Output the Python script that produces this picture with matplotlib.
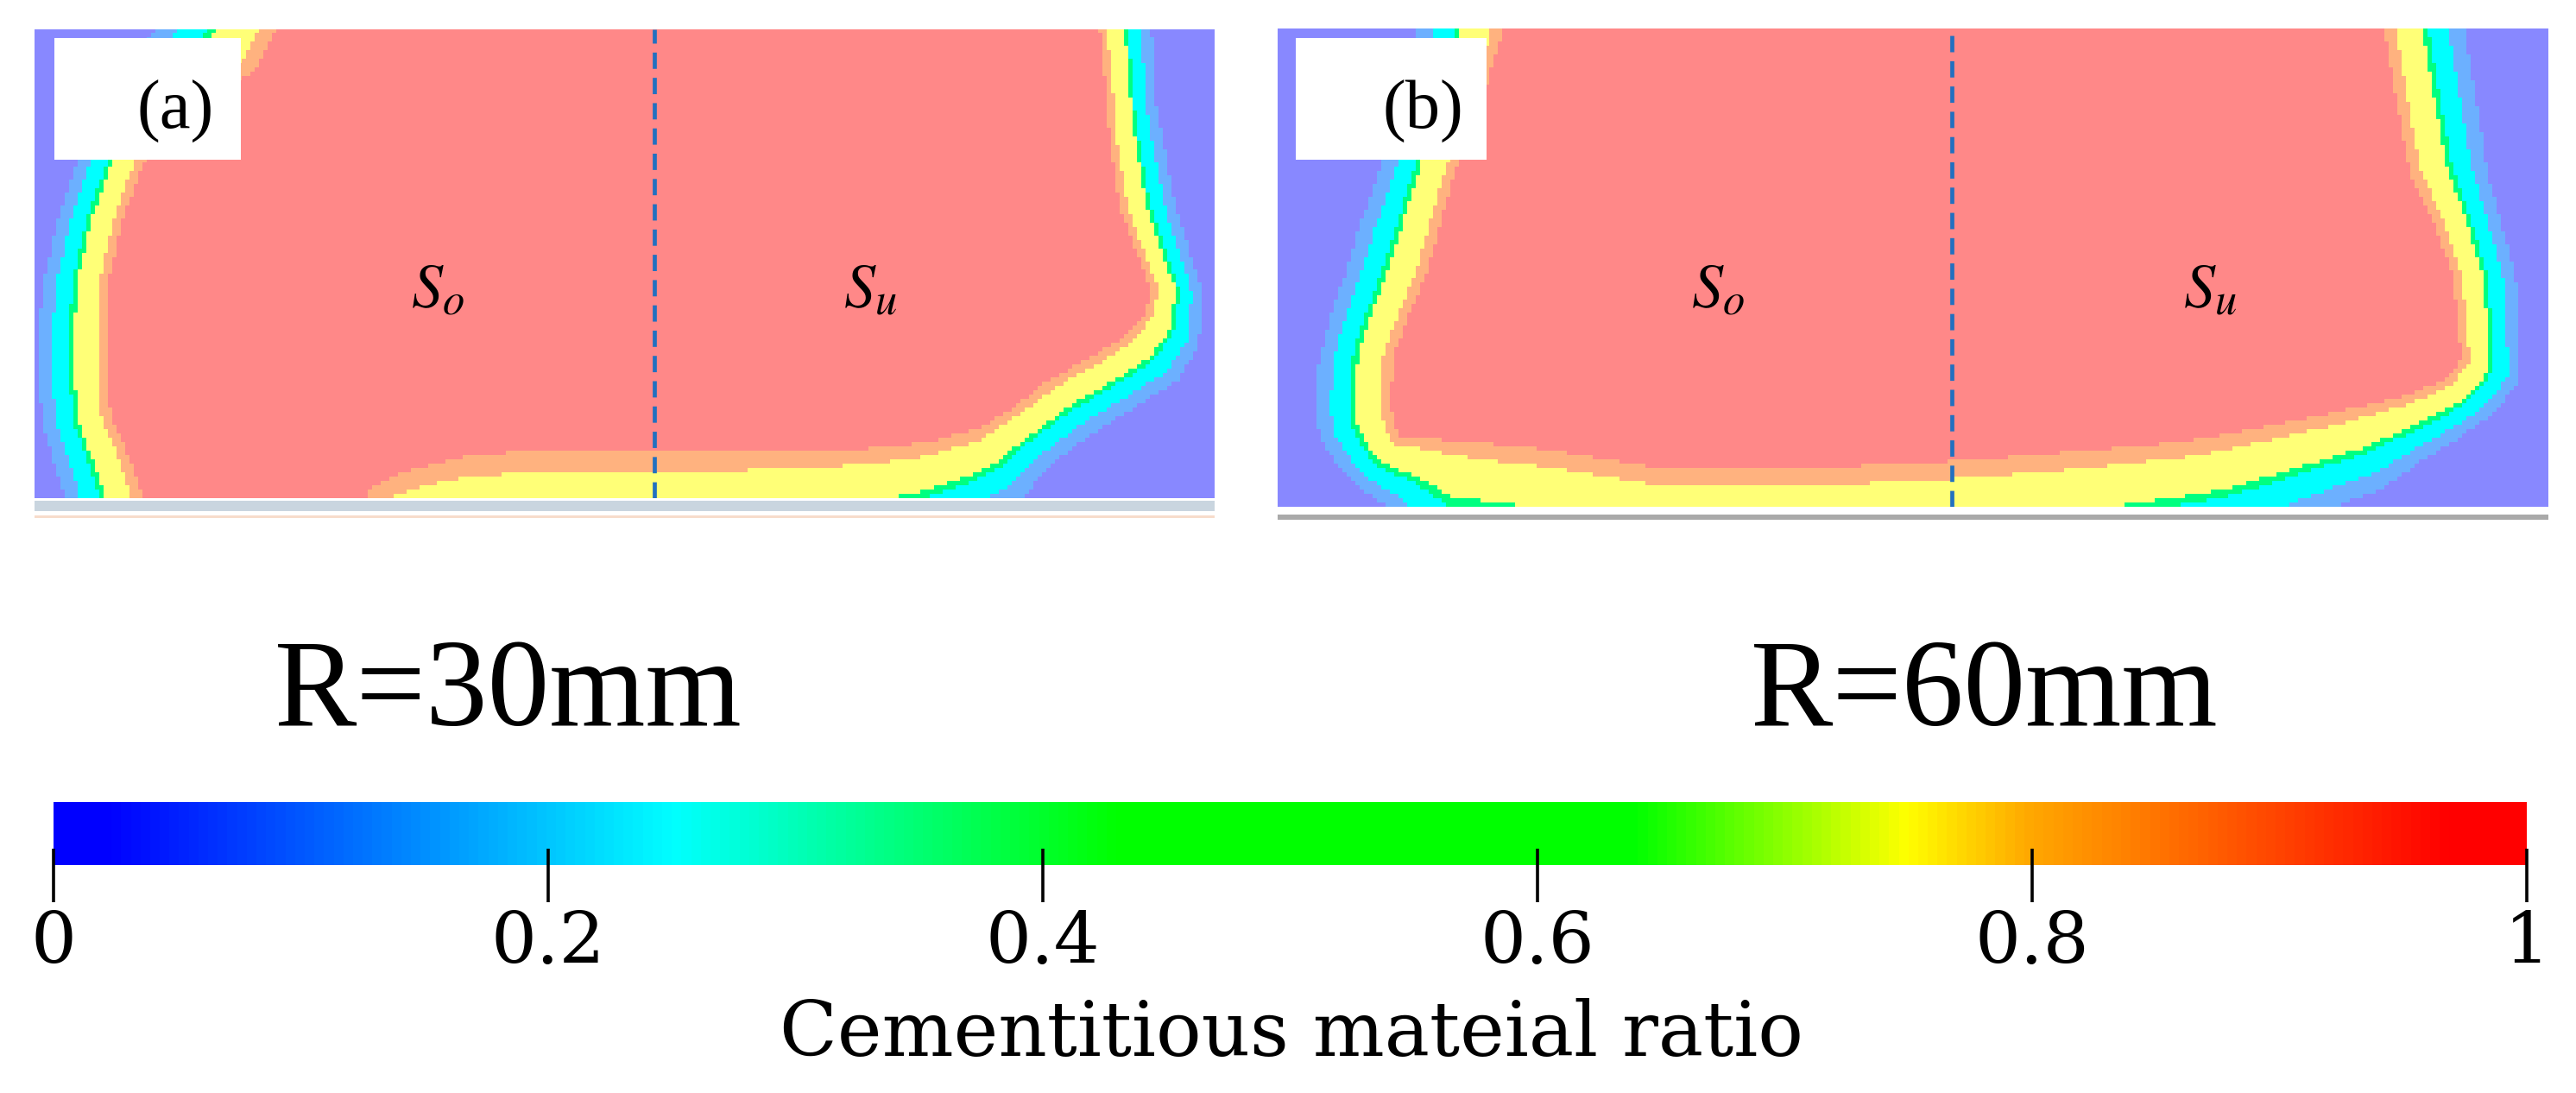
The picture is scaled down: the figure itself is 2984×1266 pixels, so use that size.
import numpy as np
import matplotlib
matplotlib.use("Agg")
import matplotlib.pyplot as plt
from matplotlib.colors import ListedColormap, BoundaryNorm, LinearSegmentedColormap
from matplotlib.patches import Rectangle
from matplotlib.path import Path

plt.rcParams['mathtext.fontset'] = 'stix'

# ---- data (panel units: u from left edge, v from bottom edge) ----
panel_names = ["(a)", "(b)"]
radius_labels = ["R=30mm", "R=60mm"]
panel_w = [1367, 1472]
panel_h = [543, 554]

# outer edge of the coloured zone (boundary with the 0-ratio region)
outer_a_u = [140, 80, 48, 25, 10, 3, 5, 12, 35, 60, 260, 660, 900, 1030, 1100, 1147, 1172, 1227, 1280, 1323, 1347, 1350, 1320, 1297, 1292]
outer_a_v = [543, 477, 387, 317, 247, 177, 127, 77, 0, -63, -123, -123, -95, -55, -25, 5, 37, 77, 110, 137, 177, 240, 339, 458, 543]
# edge of the full-ratio core
inner_a_u = [280, 255, 160, 125, 100, 85, 84, 88, 110, 125, 125, 367, 390, 430, 500, 600, 720, 860, 960, 1030, 1090, 1135, 1173, 1220, 1260, 1285, 1292, 1278, 1255, 1243, 1241, 1232]
inner_a_v = [543, 497, 427, 387, 317, 247, 157, 97, 47, 0, -23, -23, 12, 32, 49, 57, 53, 55, 57, 64, 80, 107, 137, 162, 187, 215, 240, 277, 339, 417, 458, 543]

outer_b_u = [161, 140, 117, 95, 78, 60, 48, 43, 50, 68, 95, 126, 160, 520, 920, 1120, 1222, 1280, 1320, 1370, 1410, 1437, 1437, 1432, 1400, 1373]
outer_b_v = [554, 467, 387, 327, 269, 217, 170, 111, 77, 51, 22, 0, -53, -113, -83, -43, 0, 22, 51, 82, 111, 147, 170, 269, 387, 554]
inner_b_u = [262, 235, 205, 188, 172, 150, 133, 132, 140, 220, 293, 370, 430, 620, 782, 900, 1046, 1144, 1220, 1300, 1350, 1369, 1365, 1359, 1335, 1310, 1295, 1280]
inner_b_v = [554, 467, 387, 327, 269, 217, 170, 111, 82, 75, 69, 57, 47, 45, 53, 62, 75, 93, 109, 127, 147, 170, 217, 269, 337, 387, 467, 554]

outer_u = [outer_a_u, outer_b_u]
outer_v = [outer_a_v, outer_b_v]
inner_u = [inner_a_u, inner_b_u]
inner_v = [inner_a_v, inner_b_v]

# position of the dividing line between S_o and S_u
divide_u = [718, 781]

cbar_ticks = [0, 0.2, 0.4, 0.6, 0.8, 1]
cbar_labels = ["0", "0.2", "0.4", "0.6", "0.8", "1"]

# ---- figure ----
W, H = 2984, 1266
fig = plt.figure(figsize=(W / 100, H / 100), dpi=100)


def box(x0, y0, x1, y1):
    return [x0 / W, 1 - y1 / H, (x1 - x0) / W, (y1 - y0) / H]


def rect(x0, y0, x1, y1, color):
    fig.patches.append(Rectangle((x0 / W, 1 - y1 / H), (x1 - x0) / W, (y1 - y0) / H,
                                 transform=fig.transFigure, facecolor=color,
                                 edgecolor='none', zorder=3))


def dist_to_line(px, py, xs, ys):
    xs = np.asarray(xs, float)
    ys = np.asarray(ys, float)
    best = np.full(px.shape, np.inf)
    for i in range(len(xs) - 1):
        ax_, ay_ = xs[i], ys[i]
        dx, dy = xs[i + 1] - ax_, ys[i + 1] - ay_
        L = dx * dx + dy * dy
        s = np.clip(((px - ax_) * dx + (py - ay_) * dy) / L, 0, 1)
        d = np.hypot(px - (ax_ + s * dx), py - (ay_ + s * dy))
        best = np.minimum(best, d)
    return best


def inside(px, py, xs, ys, top):
    poly = list(zip(xs, ys)) + [(xs[-1], top + 200), (xs[0], top + 200)]
    pts = np.column_stack([px.ravel(), py.ravel()])
    return Path(poly).contains_points(pts).reshape(px.shape)


field_colors = ['#8888ff', '#6cb0ff', '#00ffff', '#00ff80', '#ffff77', '#ffb27f', '#ff8888']
field_cmap = ListedColormap(field_colors)
field_norm = BoundaryNorm([-0.01, 0.001, 0.2, 0.45, 0.52, 0.86, 0.999, 1.01], field_cmap.N)

panel_boxes = [(40, 34, 1407, 577), (1480, 33, 2952, 587)]
label_u = [(467, 968), (510, 1080)]
step = 5

for k in range(2):
    x0, y0, x1, y1 = panel_boxes[k]
    ax = fig.add_axes(box(x0, y0, x1, y1))
    w, h = panel_w[k], panel_h[k]
    uu, vv = np.meshgrid(np.arange(step / 2, w, step), np.arange(step / 2, h, step))
    d_out = dist_to_line(uu, vv, outer_u[k], outer_v[k])
    d_in = dist_to_line(uu, vv, inner_u[k], inner_v[k])
    in_out = inside(uu, vv, outer_u[k], outer_v[k], h)
    in_in = inside(uu, vv, inner_u[k], inner_v[k], h)
    t = d_out / (d_out + d_in)
    val = np.where(~in_out, 0.0, np.where(in_in, 1.0, t))
    ax.imshow(val, cmap=field_cmap, norm=field_norm, origin='lower',
              extent=(0, w, 0, h), aspect='auto', interpolation='nearest')
    ax.axvline(divide_u[k], color='#2270c0', lw=3.4, dashes=(4, 2.2))
    ax.set_xlim(0, w)
    ax.set_ylim(0, h)
    ax.axis('off')

    v_lab = y1 - 335
    ax.text(label_u[k][0], v_lab, r'$S_o$', fontsize=52, ha='center', va='center')
    ax.text(label_u[k][1], v_lab, r'$S_u$', fontsize=52, ha='center', va='center')

# base strips under the panels
rect(40, 580, 1407, 592, '#c9d5df')
rect(40, 597, 1407, 600, '#f7dccb')
rect(1480, 596, 2952, 602, '#a9a9a9')

# panel label boxes
rect(63, 44, 279, 185, 'white')
rect(1501, 44, 1722, 185, 'white')
fig.text(203 / W, 1 - 129 / H, panel_names[0], fontsize=58, family='Liberation Serif',
         ha='center', va='center', zorder=5)
fig.text(1648 / W, 1 - 129 / H, panel_names[1], fontsize=58, family='Liberation Serif',
         ha='center', va='center', zorder=5)

fig.text(318 / W, 1 - 840 / H, radius_labels[0], fontsize=103, family='Liberation Serif',
         ha='left', va='baseline')
fig.text(2028 / W, 1 - 840 / H, radius_labels[1], fontsize=103, family='Liberation Serif',
         ha='left', va='baseline')

# colour bar
bar_cmap = LinearSegmentedColormap.from_list('cem', [
    (0.0, '#0000ff'), (0.02, '#0000ff'), (0.25, '#00ffff'), (0.43, '#00ff00'),
    (0.64, '#00ff00'), (0.75, '#ffff00'), (0.80, '#ffa800'), (0.97, '#ff0000'),
    (1.0, '#ff0000')])
cax = fig.add_axes(box(62, 929, 2927, 1002))
grad = np.linspace(0, 1, 512).reshape(1, -1)
cax.imshow(grad, cmap=bar_cmap, extent=(0, 1, 0, 1), aspect='auto')
cax.set_xlim(0, 1)
cax.set_ylim(0, 1)
cax.axis('off')
tr = cax.get_xaxis_transform()
cax.vlines(cbar_ticks, -0.59, 0.26, colors='black', lw=2.6, transform=tr, clip_on=False)
for v, lab in zip(cbar_ticks, cbar_labels):
    cax.text(v, -1.24, lab, transform=tr, ha='center', va='center',
             fontsize=60, family='DejaVu Serif')

fig.text(1496 / W, 1 - 1223 / H, "Cementitious mateial ratio", fontsize=63,
         family='DejaVu Serif', ha='center', va='baseline')

fig.savefig('out.png', dpi=100)
